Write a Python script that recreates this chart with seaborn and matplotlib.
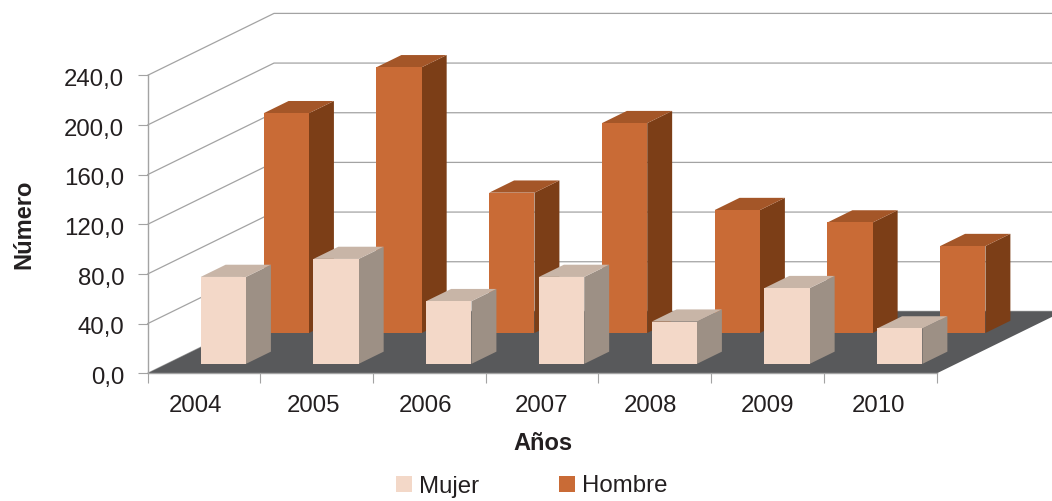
import matplotlib
matplotlib.use("Agg")
import matplotlib.pyplot as plt
from matplotlib.patches import Polygon, Patch
from matplotlib.transforms import ScaledTranslation
import seaborn as sns
import pandas as pd

years = ["2004", "2005", "2006", "2007", "2008", "2009", "2010"]
mujer = [70, 84.5, 50.5, 70, 34, 61, 28.5]
hombre = [177, 214, 113, 169, 99, 89, 70]
y_ticks = [0, 40, 80, 120, 160, 200, 240]

W, H = 1052, 501
LEFT, RIGHT, BOTTOM, TOP = 147.5, 936.7, 373.4, 75.4   # front-plane pixels
PX_X = (RIGHT - LEFT) / 7
PX_Y = (BOTTOM - TOP) / 240
DX = 126.5 / PX_X      # full floor depth in data units
DY = 62 / PX_Y
BAR_W = 45.3 / PX_X
BAR_D = 0.197
DEPTH = {"Mujer": 0.154, "Hombre": 0.652}
COL = {"Mujer": ("#F3D8C8", "#9D9085", "#C8B5A7"),
       "Hombre": ("#C96B36", "#7C3E17", "#A45628")}
GRID = "#A3A3A3"
label_nudge_px = [-8, -3.5, -4, -1, -4, 0, -1.5]

sns.set_theme(style="white")
plt.rcParams["font.family"] = ["Liberation Sans", "DejaVu Sans"]
fig = plt.figure(figsize=(W / 100, H / 100), dpi=100)
ax = fig.add_axes([LEFT / W, 1 - BOTTOM / H, (RIGHT - LEFT) / W, (BOTTOM - TOP) / H])

# back wall grid lines
for v in y_ticks:
    ax.plot([-0.5, -0.5 + DX, 7.5 + DX], [v, v + DY, v + DY], color=GRID, lw=0.9,
            zorder=1, clip_on=False, solid_joinstyle="miter")
# floor
ax.add_patch(Polygon([(-0.5, 0), (6.5, 0), (6.5 + DX, DY), (-0.5 + DX, DY)],
                     closed=True, fc="#58595B", ec="none", zorder=2, clip_on=False))


def bars(values, name, z):
    d = DEPTH[name]
    df = pd.DataFrame({"year": years, "value": values})
    n0 = len(ax.patches)
    sns.barplot(data=df, x="year", y="value", ax=ax, color=COL[name][0], saturation=1,
                width=BAR_W, bottom=d * DY, errorbar=None, zorder=z + 1)
    front, side, top = COL[name]
    sx, sy = BAR_D * DX, BAR_D * DY
    for p in ax.patches[n0:]:
        p.set_x(p.get_x() + d * DX)
        p.set_clip_on(False)
        p.set_linewidth(0)
        x0, y0, w, h = p.get_x(), p.get_y(), p.get_width(), p.get_height()
        x1, y1 = x0 + w, y0 + h
        ax.add_patch(Polygon([(x1, y0), (x1 + sx, y0 + sy), (x1 + sx, y1 + sy), (x1, y1)],
                             closed=True, fc=side, ec="none", zorder=z, clip_on=False))
        ax.add_patch(Polygon([(x0, y1), (x1, y1), (x1 + sx, y1 + sy), (x0 + sx, y1 + sy)],
                             closed=True, fc=top, ec="none", zorder=z, clip_on=False))


bars(hombre, "Hombre", 3)
bars(mujer, "Mujer", 5)

ax.set_xlim(-0.5, 6.5)
ax.set_ylim(0, 240)
ax.patch.set_alpha(0)
for s in ("top", "right"):
    ax.spines[s].set_visible(False)
for s in ("left", "bottom"):
    ax.spines[s].set_color(GRID)
    ax.spines[s].set_linewidth(1.0)
    ax.spines[s].set_zorder(7)

ax.set_yticks(y_ticks, [f"{v:.1f}".replace(".", ",") for v in y_ticks])
ax.tick_params(axis="y", length=7.2, width=0.8, color=GRID, labelsize=17.3, pad=9.6,
               labelcolor="#231F20", left=True)
for lab in ax.get_yticklabels():
    lab.set_transform(lab.get_transform() + ScaledTranslation(0, -2.2 / 100, fig.dpi_scale_trans))
ax.set_xticks([i + n / PX_X for i, n in enumerate(label_nudge_px)], years)
ax.tick_params(axis="x", which="major", length=0, labelsize=17.3, pad=15.5,
               labelcolor="#231F20")
ax.set_xticks([i - 0.5 for i in range(8)], minor=True)
ax.tick_params(axis="x", which="minor", length=7.2, width=0.8, color=GRID, bottom=True)

ax.set_xlabel("")
ax.set_ylabel("")
fig.text(543 / W, 1 - 443 / H, "Años", fontsize=17, fontweight="bold", color="#231F20",
         ha="center", va="center")
fig.text(24 / W, 1 - 224 / H, "Número", fontsize=17, fontweight="bold", color="#231F20",
         rotation=90, ha="center", va="center")

handles = [Patch(fc=COL[n][0], ec="none") for n in ("Mujer", "Hombre")]
fig.legend(handles, ["Mujer", "Hombre"], ncol=2, frameon=False, fontsize=17.3,
           labelcolor="#231F20", loc="center left", bbox_to_anchor=(396 / W, 1 - 486.5 / H),
           borderaxespad=0, borderpad=0, handlelength=0.68, handleheight=0.68,
           handletextpad=0.28, columnspacing=3.32)

fig.savefig("out.png", dpi=100)
